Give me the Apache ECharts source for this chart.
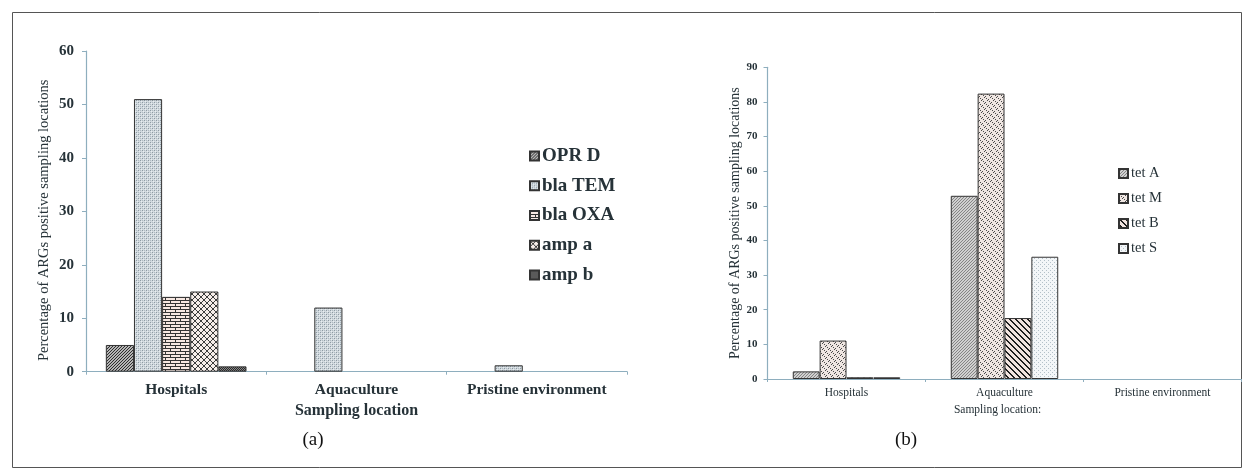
<!DOCTYPE html>
<html>
<head>
<meta charset="utf-8">
<script src="https://cdn.jsdelivr.net/npm/echarts@6/dist/echarts.min.js"></script>
<style>
  html, body { margin: 0; padding: 0; background: #fff; }
  #chart { width: 1252px; height: 472px; }
</style>
</head>
<body>
<div id="chart"></div>
<script>
// Sampling locations (shared by both panels)
const categories = ['Hospitals', 'Aquaculture', 'Pristine environment'];

// Panel (a): beta-lactam / other ARGs, % positive sampling locations
const namesA = ['OPR D', 'bla TEM', 'bla OXA', 'amp a', 'amp b'];
const oprD   = [5, 0, 0];
const blaTEM = [51, 12, 1.2];
const blaOXA = [14, 0, 0];
const ampA   = [15, 0, 0];
const ampB   = [1, 0, 0];
const ticksA = { min: 0, max: 60, interval: 10 };

// Panel (b): tetracycline resistance genes
const namesB = ['tet A', 'tet M', 'tet B', 'tet S'];
const tetA = [2.2, 52.9, 0];
const tetM = [11.1, 82.4, 0];
const tetB = [0.5, 17.6, 0];
const tetS = [0.5, 35.3, 0];
const ticksB = { min: 0, max: 90, interval: 10 };

const yTitle = 'Percentage of ARGs positive sampling locations';
const xTitle = 'Sampling location';

// --- fill patterns drawn on small tiles ---
function tile(w, h, bg, draw) {
  const c = document.createElement('canvas');
  c.width = w; c.height = h;
  const g = c.getContext('2d');
  g.fillStyle = bg; g.fillRect(0, 0, w, h);
  draw(g, w, h);
  return { image: c, repeat: 'repeat' };
}
const px = (g, col, pts) => { g.fillStyle = col; pts.forEach(p => g.fillRect(p[0], p[1], p[2] || 1, p[3] || 1)); };

const patterns = {
  'OPR D': tile(3, 3, '#b5b5b5', g => px(g, '#2e2e2e', [[0,2],[1,1],[2,0]])),
  'bla TEM': tile(4, 4, '#d2dadf', g => { px(g, '#8d9aa3', [[0,0],[2,2]]); px(g, '#b0bbc2', [[2,0],[0,2]]); px(g, '#e8edf0', [[1,1],[3,3]]); }),
  'bla OXA': tile(10, 6, '#f7e8e2', g => px(g, '#333', [[0,0,10,1],[0,3,10,1],[0,0,1,3],[5,3,1,3]])),
  'amp a': tile(6, 6, '#f6ede9', g => px(g, '#3c3c3c', [[0,0],[1,1],[2,2],[3,3],[4,4],[5,5],[5,0],[4,1],[3,2],[2,3],[1,4],[0,5]])),
  'amp b': tile(2, 2, '#8a8a8a', g => px(g, '#2a2a2a', [[0,0],[1,1]])),
  'tet A': tile(3, 3, '#d0d0d0', g => px(g, '#858585', [[0,2],[1,1],[2,0]])),
  'tet M': tile(6, 6, '#efe6e2', g => px(g, '#4a4a4a', [[0,1],[1,0],[3,4],[4,3],[2,2],[5,5]])),
  'tet B': tile(6, 6, '#f2e4df', g => { for (let i = 0; i < 6; i++) px(g, '#1f1f1f', [[i, i, 2, 1]]); px(g, '#1f1f1f', [[0,5]]); }),
  'tet S': tile(4, 4, '#f3f6f8', g => px(g, '#b3c0c8', [[0,0],[2,2]]))
};

const serif = 'Liberation Serif, Times New Roman, serif';
const ink = '#263238';
const axisCol = '#8eaebe';

function barSeries(name, values, idx, gap) {
  return {
    name: name,
    type: 'bar',
    xAxisIndex: idx,
    yAxisIndex: idx,
    barGap: '0%',
    barCategoryGap: gap,
    data: values.map(v => (v === 0 ? '-' : v)),
    itemStyle: { color: patterns[name], borderColor: '#333', borderWidth: 1 },
    emphasis: { disabled: true },
    animation: false
  };
}

function xAxis(idx, fontSize, weight, labelMargin, nameSize, nameGap, name, namePad) {
  return {
    type: 'category', gridIndex: idx, data: categories,
    axisLine: { lineStyle: { color: axisCol, width: 1.2 } },
    axisTick: { show: true, length: 3, lineStyle: { color: axisCol } },
    axisLabel: { interval: 0, fontFamily: serif, fontSize: fontSize, fontWeight: weight, color: ink, margin: labelMargin },
    name: name, nameLocation: 'middle', nameGap: nameGap,
    nameTextStyle: { fontFamily: serif, fontSize: nameSize, fontWeight: weight, color: ink, padding: namePad }
  };
}

function yAxis(idx, t, fontSize, labelMargin, nameSize, nameGap, namePad) {
  return {
    type: 'value', gridIndex: idx, min: t.min, max: t.max, interval: t.interval,
    splitLine: { show: false },
    axisLine: { show: true, lineStyle: { color: axisCol, width: 1.2 } },
    axisTick: { show: true, length: 4, lineStyle: { color: axisCol } },
    axisLabel: { fontFamily: serif, fontSize: fontSize, color: ink, margin: labelMargin, fontWeight: 'bold' },
    name: yTitle, nameLocation: 'middle', nameGap: nameGap, nameRotate: 90,
    nameTextStyle: { fontFamily: serif, fontSize: nameSize, color: ink, padding: namePad }
  };
}

const chart = echarts.init(document.getElementById('chart'), null, { renderer: 'canvas' });

chart.setOption({
  backgroundColor: '#fff',
  animation: false,
  grid: [
    { left: 86, top: 51, width: 541, height: 320.7 },
    { left: 767.5, top: 67.3, width: 474, height: 311.7 }
  ],
  xAxis: [
    xAxis(0, 15.5, 'bold', 10, 16, 29, xTitle, 0),
    xAxis(1, 11.5, 'normal', 8, 11.5, 23, xTitle + ':', [0, 14, 0, 0])
  ],
  yAxis: [
    yAxis(0, ticksA, 15, 12, 14.5, 34, [0, 18, 0, 0]),
    yAxis(1, ticksB, 11, 10, 14, 21, 0)
  ],
  legend: [
    {
      data: namesA, orient: 'vertical', left: 524, top: 141.5,
      itemWidth: 9, itemHeight: 9, itemGap: 10.75, icon: 'rect',
      textStyle: { fontFamily: serif, fontSize: 19, fontWeight: 'bold', color: ink, lineHeight: 18, padding: [0, 0, 0, -2] },
      selectedMode: false
    },
    {
      data: namesB, orient: 'vertical', left: 1113, top: 161,
      itemWidth: 9, itemHeight: 9, itemGap: 10, icon: 'rect',
      textStyle: { fontFamily: serif, fontSize: 14.5, color: ink, lineHeight: 15, padding: [0, 0, 0, -2] },
      selectedMode: false
    }
  ],
  series: [
    barSeries('OPR D', oprD, 0, '22%'),
    barSeries('bla TEM', blaTEM, 0, '22%'),
    barSeries('bla OXA', blaOXA, 0, '22%'),
    barSeries('amp a', ampA, 0, '22%'),
    barSeries('amp b', ampB, 0, '22%'),
    barSeries('tet A', tetA, 1, '32%'),
    barSeries('tet M', tetM, 1, '32%'),
    barSeries('tet B', tetB, 1, '32%'),
    barSeries('tet S', tetS, 1, '32%')
  ],
  graphic: [
    { type: 'rect', shape: { x: 12.5, y: 12.5, width: 1229, height: 455 },
      style: { fill: 'none', stroke: '#555', lineWidth: 1 }, silent: true },
    { type: 'text', x: 313, y: 440, style: { text: '(a)', fontFamily: serif, fontSize: 19, fill: '#111', align: 'center', verticalAlign: 'middle' } },
    { type: 'text', x: 906, y: 440, style: { text: '(b)', fontFamily: serif, fontSize: 19, fill: '#111', align: 'center', verticalAlign: 'middle' } }
  ]
});
</script>
</body>
</html>
